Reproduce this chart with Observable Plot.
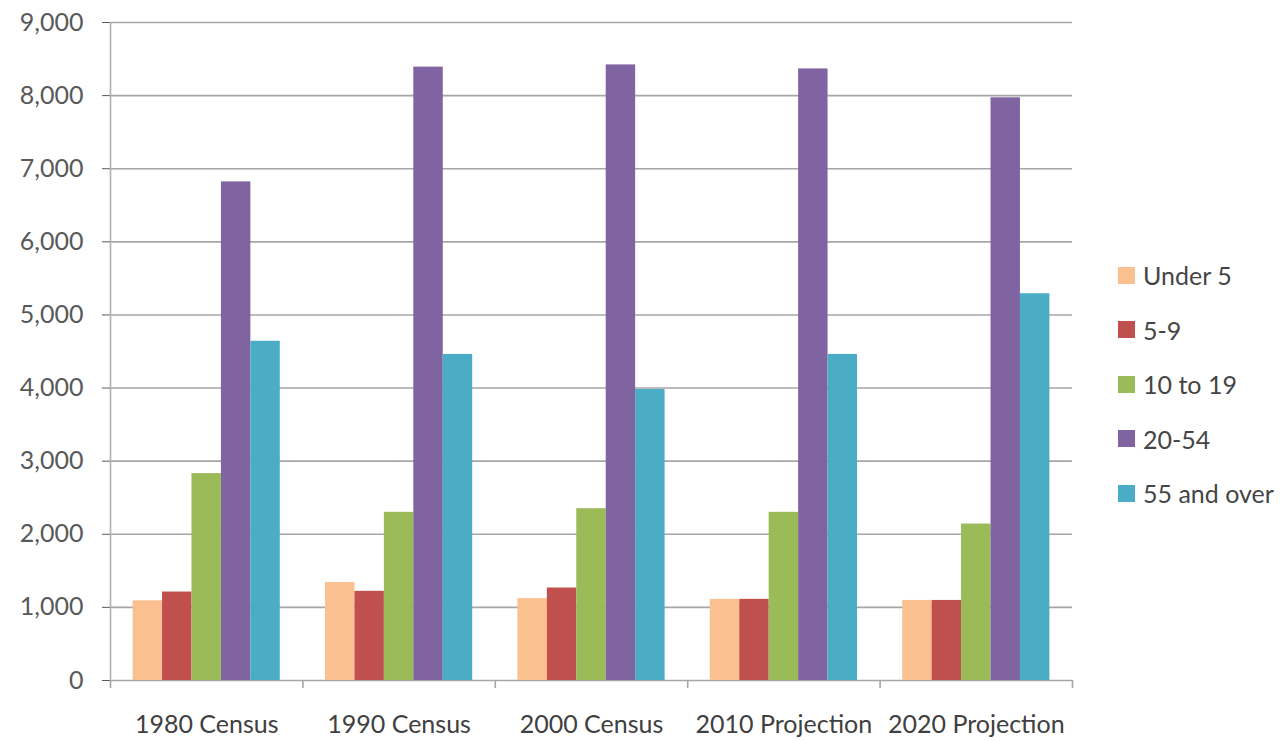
<!DOCTYPE html>
<html>
<head>
<meta charset="utf-8">
<script src="https://cdn.jsdelivr.net/npm/d3@7"></script>
<script src="https://cdn.jsdelivr.net/npm/@observablehq/plot@0.6"></script>
<style>
  html, body { margin: 0; padding: 0; background: #fff; }
  #wrap { position: relative; width: 1287px; height: 741px; font-family: Lato, "Noto Sans", sans-serif; }
  #legend { position: absolute; left: 1118px; top: 248px; }
  .item { display: flex; align-items: center; height: 54.5px; font-size: 25px; color: #454545; white-space: nowrap; }
  .sw { width: 17px; height: 17px; margin-right: 8px; flex: none; }
</style>
</head>
<body>
<div id="wrap"><div id="legend"></div></div>
<script>
const categories = ["1980 Census", "1990 Census", "2000 Census", "2010 Projection", "2020 Projection"];
const ageGroups = ["Under 5", "5-9", "10 to 19", "20-54", "55 and over"];
const under5    = [1090, 1340, 1120, 1110, 1095];
const age5to9   = [1210, 1220, 1265, 1110, 1095];
const age10to19 = [2830, 2300, 2350, 2300, 2140];
const age20to54 = [6820, 8390, 8420, 8365, 7970];
const age55plus = [4640, 4460, 3980, 4460, 5290];
const yTicks = [0, 1000, 2000, 3000, 4000, 5000, 6000, 7000, 8000, 9000];
const colors = ["#FAC090", "#C0504D", "#9BBB59", "#8064A2", "#4BACC6"];

const series = [under5, age5to9, age10to19, age20to54, age55plus];
const barW = 0.153;
const pad = (1 - barW * ageGroups.length) / 2;
const data = [];
categories.forEach((c, i) => {
  ageGroups.forEach((a, j) => {
    const x1 = i + pad + j * barW;
    data.push({category: c, age: a, value: series[j][i], x1, x2: x1 + barW});
  });
});
const boundaries = d3.range(categories.length + 1);

const chart = Plot.plot({
  width: 1287,
  height: 741,
  marginLeft: 110,
  marginRight: 215,
  marginTop: 22,
  marginBottom: 61,
  style: {fontFamily: "Lato, 'Noto Sans', sans-serif", fontSize: "25px", color: "#595959", background: "#fff"},
  x: {domain: [0, categories.length], axis: null},
  y: {domain: [0, 9000], ticks: yTicks, tickFormat: d3.format(","), tickSize: 8, tickPadding: 19, label: null},
  color: {domain: ageGroups, range: colors},
  marks: [
    Plot.ruleY(yTicks, {stroke: "#a6a6a6", strokeWidth: 1.6}),
    Plot.ruleX([0], {y1: 0, y2: 9000, stroke: "#b0b0b0", strokeWidth: 1.6}),
    Plot.ruleX(boundaries, {x: d => d, y1: 0, y2: 0, insetBottom: -8, stroke: "#a6a6a6", strokeWidth: 1.6}),
    Plot.rectY(data, {x1: "x1", x2: "x2", y1: 0, y2: "value", fill: "age"}),
    Plot.text(categories, {x: (d, i) => i + 0.5, y: 0, dy: 44, text: d => d, fill: "#404040", fontSize: 25, lineAnchor: "middle"})
  ]
});
document.getElementById("wrap").prepend(chart);

const legend = document.getElementById("legend");
ageGroups.forEach((a, j) => {
  const item = document.createElement("div");
  item.className = "item";
  const sw = document.createElement("span");
  sw.className = "sw";
  sw.style.background = colors[j];
  const t = document.createElement("span");
  t.textContent = a;
  item.append(sw, t);
  legend.append(item);
});
</script>
</body>
</html>
